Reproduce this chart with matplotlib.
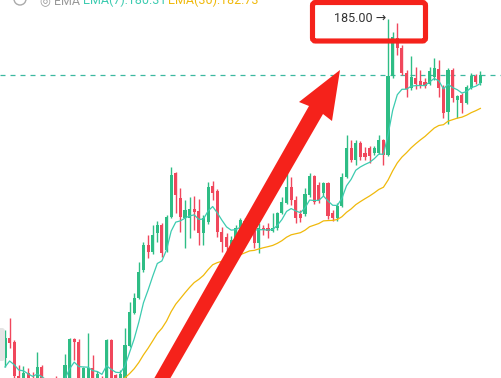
import numpy as np
import matplotlib.pyplot as plt
from matplotlib.patches import Polygon, FancyBboxPatch, Circle

# candle data (price)
opens = [151.1, 153.1, 152.7, 149.3, 148.3, 149.6, 149.0, 148.5, 150.2, 148.4,
         147.9, 148.3, 148.1, 148.3, 148.9, 153.0, 152.7, 148.9, 149.0, 150.1,
         148.8, 149.0, 148.6, 152.9, 149.4, 148.8, 148.9, 152.3, 155.6, 157.1,
         159.9, 162.4, 161.7, 163.6, 164.4, 161.9, 165.2, 169.6, 167.1, 165.1,
         165.1, 166.0, 165.8, 163.6, 164.7, 168.3, 167.8, 163.7, 163.2, 161.9,
         162.9, 163.9, 164.8, 164.3, 164.7, 162.6, 164.1, 164.1, 163.8, 164.1,
         165.6, 166.6, 168.2, 166.9, 165.5, 165.5, 167.4, 169.3, 168.4, 167.6,
         168.6, 165.6, 165.1, 166.3, 169.2, 172.1, 170.9, 172.6, 171.6, 172.1,
         171.6, 171.6, 172.9, 171.4, 179.3, 183.1, 182.1, 179.6, 178.1, 179.1,
         178.8, 178.7, 178.5, 179.2, 180.0, 178.1, 175.7, 179.9, 176.9, 177.4,
         176.6, 178.1, 179.3, 178.6]
highs = [153.9, 155.1, 152.9, 150.4, 150.3, 150.1, 149.7, 151.7, 150.4, 148.9,
         148.8, 149.3, 148.9, 151.5, 153.1, 153.1, 153.0, 150.2, 153.6, 151.4,
         149.8, 149.3, 153.0, 153.0, 149.5, 149.9, 154.1, 156.7, 157.6, 160.7,
         162.7, 163.4, 164.4, 164.8, 164.6, 165.4, 170.2, 169.7, 168.1, 166.9,
         167.2, 167.3, 167.0, 165.4, 168.7, 168.8, 168.0, 164.2, 163.6, 163.3,
         164.4, 165.1, 165.1, 165.0, 165.2, 164.6, 164.4, 164.6, 165.6, 165.7,
         167.2, 169.6, 169.2, 167.3, 165.9, 168.1, 169.6, 169.4, 168.7, 168.7,
         168.7, 165.9, 166.6, 169.6, 173.4, 172.9, 172.9, 172.8, 172.2, 172.3,
         172.3, 173.4, 173.0, 185.0, 183.7, 184.6, 182.4, 179.9, 181.3, 180.2,
         179.9, 179.1, 180.2, 181.1, 180.9, 178.4, 180.1, 180.1, 177.4, 177.6,
         178.4, 179.6, 179.5, 179.8]
lows = [150.2, 152.1, 148.9, 147.9, 147.9, 148.1, 148.1, 148.3, 147.9, 147.4,
        147.3, 147.7, 147.5, 147.9, 148.6, 150.9, 148.6, 148.6, 148.7, 148.5,
        148.4, 148.1, 148.3, 148.5, 148.5, 148.5, 148.6, 152.2, 155.5, 157.0,
        159.7, 161.1, 161.5, 162.7, 161.2, 161.7, 165.1, 165.6, 163.7, 162.1,
        163.1, 163.9, 162.4, 162.4, 164.5, 166.9, 163.2, 161.7, 161.3, 161.5,
        162.6, 163.7, 163.9, 163.9, 162.1, 161.6, 163.4, 163.1, 163.7, 163.9,
        165.5, 166.5, 166.4, 164.6, 164.7, 165.3, 167.2, 166.5, 166.6, 167.3,
        165.0, 164.8, 164.8, 166.2, 169.1, 170.7, 170.4, 170.9, 170.9, 170.6,
        171.4, 171.5, 170.4, 171.3, 179.1, 181.4, 179.4, 177.2, 177.9, 178.0,
        178.1, 178.1, 178.4, 178.9, 177.2, 175.1, 174.5, 176.7, 175.1, 175.6,
        176.5, 178.0, 178.5, 178.4]
closes = [153.1, 152.6, 149.3, 148.3, 149.6, 148.6, 148.5, 150.2, 148.4, 147.9,
          148.3, 148.1, 148.5, 150.4, 153.0, 152.7, 148.9, 150.1, 150.1, 148.8,
          149.5, 148.6, 152.9, 148.9, 148.8, 149.5, 152.4, 155.7, 157.1, 159.7,
          162.4, 161.7, 163.4, 164.4, 161.6, 165.2, 169.4, 167.4, 165.2, 165.9,
          166.0, 165.7, 163.6, 165.1, 168.2, 167.6, 163.7, 162.7, 162.2, 162.9,
          164.1, 164.9, 164.3, 164.6, 162.6, 164.1, 163.9, 163.8, 164.1, 165.6,
          166.7, 168.2, 166.9, 165.1, 165.1, 167.5, 169.3, 166.7, 166.9, 168.6,
          165.3, 165.1, 166.3, 169.2, 172.1, 170.9, 172.6, 171.2, 171.2, 171.3,
          172.1, 172.9, 171.4, 179.3, 183.2, 182.1, 179.6, 178.0, 179.2, 178.5,
          178.4, 178.3, 179.8, 180.1, 178.1, 175.6, 179.9, 177.1, 177.3, 176.6,
          178.2, 179.3, 178.7, 179.4]

# EMA starting values read at the first candle
ema7_start = 150.2
ema30_start = 145.5

legend_items = ['EMA(7):180.31', 'EMA(30):182.73']

green = '#2EBD85'
red = '#F0475C'


def ema(vals, n, start):
    a = 2 / (n + 1)
    out = [start]
    for v in vals[1:]:
        out.append(out[-1] + a * (v - out[-1]))
    return np.array(out)


o = np.array(opens)
h = np.array(highs)
l = np.array(lows)
c = np.array(closes)
x = np.arange(len(c))
up = c >= o
cols = np.where(up, green, red)

fig = plt.figure(figsize=(5.01, 3.78), dpi=100)
ax = fig.add_axes([0, 0, 1, 1])

ax.vlines(x, l, h, colors=cols, lw=1, zorder=2)
ax.bar(x, np.maximum(np.abs(c - o), 0.12), bottom=np.minimum(o, c),
       width=0.68, color=cols, zorder=3)

ax.plot(x, ema(c, 7, ema7_start), color='#3CCBB0', lw=0.9, zorder=4)
ax.plot(x, ema(c, 30, ema30_start), color='#F0B90B', lw=0.9, zorder=4)

ax.axhline(c[-1], color='#3CB8A0', ls=(0, (4, 4)), lw=0.9, zorder=1)

# highest price marker
imax = int(np.argmax(h))
ax.text(imax - 0.3, h[imax] + 0.05, '185.00 \u2192', ha='right', va='center',
        fontsize=9, color='#333333', family=['Roboto', 'DejaVu Sans'], zorder=6)

ax.set_xlim(-1.083, 107.47)
ax.set_ylim(149.1, 186.9)
ax.axis('off')

# overlay in pixel units for the screenshot markup
ov = fig.add_axes([0, 0, 1, 1], facecolor='none')
ov.set_xlim(0, 501)
ov.set_ylim(378, 0)
ov.axis('off')

box = FancyBboxPatch((312.5, 2.5), 113, 38.5,
                     boxstyle='round,pad=0,rounding_size=3',
                     fill=False, ec='#F5221B', lw=3.7, zorder=7)
ov.add_patch(box)

arrow = Polygon([(151, 384), (309, 106), (299, 102), (340, 70), (332, 121),
                 (323, 114), (167, 384)], closed=True, fc='#F5221B',
                ec='none', zorder=8)
ov.add_patch(arrow)

# header (cut off at top)
ov.add_patch(Circle((20, -1), 6, fill=False, ec='#AAAAAA', lw=1))
ov.text(40, 4, '\u25CE EMA', fontsize=9, color='#999999', va='baseline',
        family=['Roboto', 'DejaVu Sans'])
ov.text(83, 4, legend_items[0], fontsize=9, color='#3CCBB0', va='baseline',
        family='Roboto')
ov.text(168, 4, legend_items[1], fontsize=9, color='#F0B90B', va='baseline',
        family='Roboto')

# side handle
ov.add_patch(FancyBboxPatch((-4, 328), 9, 33, boxstyle='round,pad=0,rounding_size=3',
                            fc='#E4E4E4', ec='none'))

fig.savefig('out.png', dpi=100)
